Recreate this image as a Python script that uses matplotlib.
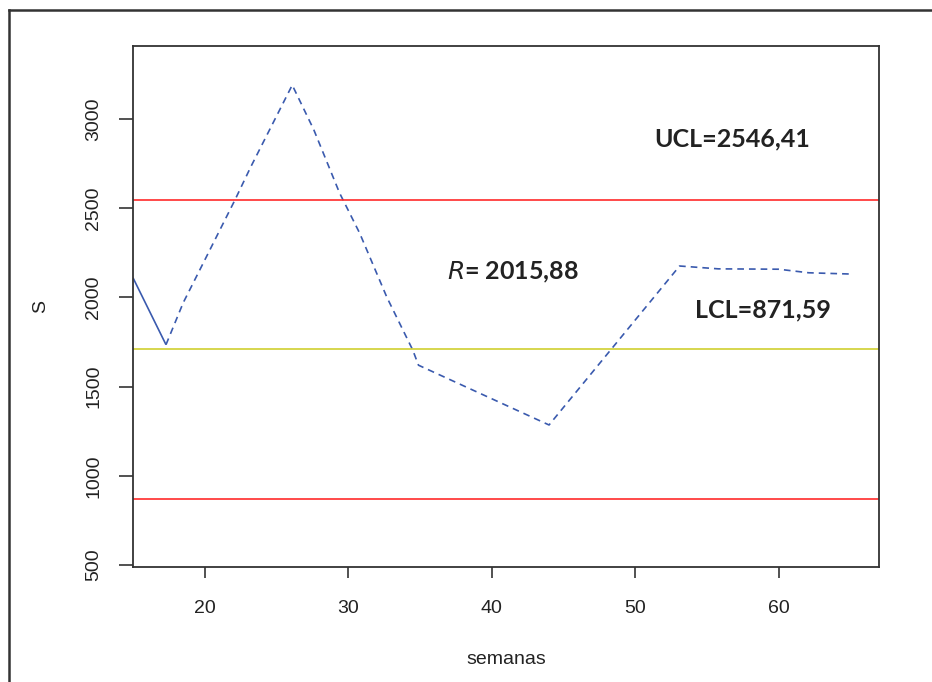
import matplotlib
matplotlib.use("Agg")
import matplotlib.pyplot as plt
from matplotlib.lines import Line2D

# data
semanas = [15.0, 17.3, 18.5, 20.1, 22.1, 23.2, 26.1, 27.6, 29.4, 30.8, 32.7, 34.5, 34.9, 44.0, 53.1, 55.8, 60.0, 62.1, 65.0]
S = [2110, 1735, 1970, 2225, 2545, 2730, 3190, 2940, 2585, 2360, 2000, 1705, 1620, 1285, 2176, 2160, 2158, 2138, 2131]
UCL = 2546.41
LCL = 871.59
CL = (UCL + LCL) / 2
xticks = [20, 30, 40, 50, 60]
yticks = [500, 1000, 1500, 2000, 2500, 3000]

fig = plt.figure(figsize=(9.32, 6.82), dpi=100)
ax = fig.add_axes([133/932, 1-567/682, (879-133)/932, (567-46)/682])

blue = "#3a5aae"
ax.plot(semanas[:2], S[:2], color=blue, lw=1.2, solid_capstyle="butt")
ax.plot(semanas[1:], S[1:], color=blue, lw=1.2, dashes=(4, 3))
ax.axhline(UCL, color="#ff2a2a", lw=1.2)
ax.axhline(LCL, color="#ff2a2a", lw=1.2)
ax.axhline(CL, color="#cfcf30", lw=1.2)

ax.set_xlim(15, 67)
ax.set_ylim(489, 3409)
ax.set_xticks(xticks)
ax.set_yticks(yticks)
ax.set_xticklabels([str(v) for v in xticks], fontsize=14, family="Liberation Sans", color="#222222")
ax.set_yticklabels([str(v) for v in yticks], fontsize=14, family="Liberation Sans", color="#222222", rotation=90, va="center")
ax.tick_params(axis="x", direction="out", length=8, width=1.2, pad=16, color="#333333")
ax.tick_params(axis="y", direction="out", length=10, width=1.2, pad=12, color="#333333")
for sp in ax.spines.values():
    sp.set_linewidth(1.3)
    sp.set_color("#333333")

ax.set_xlabel("semanas", fontsize=14, family="Liberation Sans", color="#222222", labelpad=24)
ax.set_ylabel("S", fontsize=14, family="Liberation Sans", color="#222222", labelpad=26)

tkw = dict(fontsize=18, fontweight="bold", family="Lato", color="#222222", va="center")
ax.text(51.3, 2888, "UCL=2546,41", ha="left", **tkw)
ax.text(54.2, 1929, "LCL=871,59", ha="left", **tkw)
ax.text(36.9, 2142, r"$\bf{\it{R}}$" + "= 2015,88", ha="left", **tkw)

fig.add_artist(Line2D([9/932, 9/932], [0, 1-10/682], transform=fig.transFigure, color="#333333", lw=1.8))
fig.add_artist(Line2D([9/932, 1], [1-10/682, 1-10/682], transform=fig.transFigure, color="#333333", lw=1.8))

fig.savefig("out.png", dpi=100)
